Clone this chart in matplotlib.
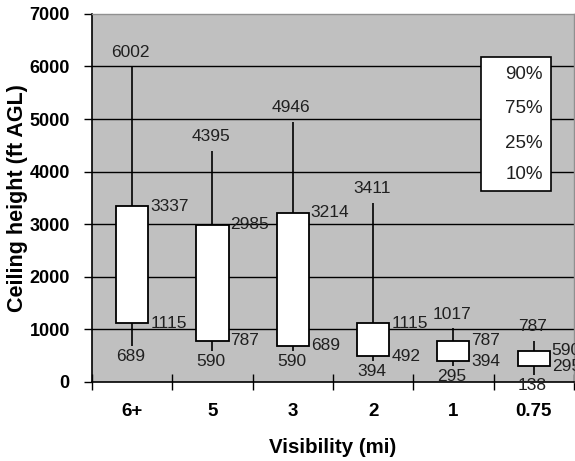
import numpy as np
import matplotlib
matplotlib.use('Agg')
import matplotlib.pyplot as plt
from matplotlib.patches import Rectangle

plt.rcParams['font.family'] = ['Liberation Sans', 'DejaVu Sans']

# visibility categories and ceiling height percentiles (ft AGL)
visibility = ['6+', '5', '3', '2', '1', '0.75']
p90 = [6002, 4395, 4946, 3411, 1017, 787]
p75 = [3337, 2985, 3214, 1115, 787, 590]
p25 = [1115, 787, 689, 492, 394, 295]
p10 = [689, 590, 590, 394, 295, 138]
pct_labels = ['90%', '75%', '25%', '10%']
y_ticks = [0, 1000, 2000, 3000, 4000, 5000, 6000, 7000]

fig = plt.figure(figsize=(5.75, 4.61), dpi=100)
ax = fig.add_axes([0.16, 0.1714, 0.838, 0.7986])
ax.set_facecolor('#c0c0c0')

x = np.arange(len(visibility))
ax.set_xlim(-0.5, len(visibility) - 0.5)
ax.set_ylim(0, 7000)

# horizontal grid lines
for yv in y_ticks[1:-1]:
    ax.axhline(yv, color='black', lw=1.0, zorder=1)

# whiskers (high-low lines)
ax.vlines(x, p10, p25, color='black', lw=1.2, zorder=2)
ax.vlines(x, p75, p90, color='black', lw=1.2, zorder=2)

# boxes 25%..75%
heights = np.array(p75) - np.array(p25)
ax.bar(x, heights, bottom=p25, width=0.4, color='white', edgecolor='black',
       lw=1.3, zorder=3)

# value labels
lab_kw = dict(fontsize=12.5, color='#202020', textcoords='offset points',
              annotation_clip=False, zorder=4)
for i in range(len(visibility)):
    ax.annotate(str(p90[i]), (x[i], p90[i]), xytext=(-1, 7), ha='center',
                va='baseline', **lab_kw)
    ax.annotate(str(p75[i]), (x[i], p75[i]), xytext=(13, 0), ha='left',
                va='center', **lab_kw)
    ax.annotate(str(p25[i]), (x[i], p25[i]), xytext=(13, 0), ha='left',
                va='center', **lab_kw)
    ax.annotate(str(p10[i]), (x[i], p10[i]), xytext=(-1, -2), ha='center',
                va='top', **lab_kw)

# legend box
ax.add_patch(Rectangle((0.807, 0.519), 0.145, 0.364, transform=ax.transAxes,
                       facecolor='white', edgecolor='black', lw=1.2, zorder=5))
for k, ty in enumerate([0.834, 0.742, 0.649, 0.563]):
    ax.text(0.936, ty, pct_labels[k], transform=ax.transAxes, ha='right',
            va='center', fontsize=13.5, color='#202020', zorder=6)

# axes styling
ax.set_yticks(y_ticks)
ax.set_yticklabels([str(v) for v in y_ticks], fontsize=13, fontweight='bold')
ax.tick_params(axis='y', direction='out', length=6, width=1, pad=10)

ax.set_xticks(x)
ax.set_xticklabels(visibility, fontsize=13.5, fontweight='bold')
ax.tick_params(axis='x', which='major', length=0, pad=15)
ax.set_xticks(np.arange(-0.5, len(visibility)), minor=True)
ax.tick_params(axis='x', which='minor', direction='inout', length=12, width=1)

for s in ['left', 'bottom']:
    ax.spines[s].set_color('black')
    ax.spines[s].set_linewidth(1.2)
for s in ['top', 'right']:
    ax.spines[s].set_color('#909090')
    ax.spines[s].set_linewidth(1.0)

ax.set_xlabel('Visibility (mi)', fontsize=14.8, fontweight='bold', labelpad=13)
ax.set_ylabel('Ceiling height (ft AGL)', fontsize=15.5, fontweight='bold',
              labelpad=1)

fig.savefig('out.png', dpi=100)
